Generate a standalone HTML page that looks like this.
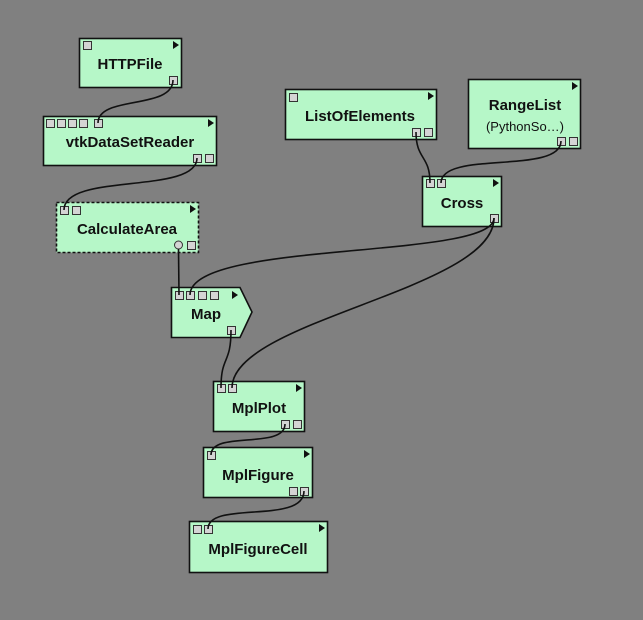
<!DOCTYPE html>
<html><head><meta charset="utf-8"><style>
html,body{margin:0;padding:0;background:#808080;}
svg{display:block}
text{font-family:"Liberation Sans",sans-serif;font-weight:bold;font-size:15px;fill:#111;text-anchor:middle}
</style></head><body>
<svg width="643" height="620" viewBox="0 0 643 620">
<rect width="643" height="620" fill="#808080"/>
<g stroke="#111" stroke-width="1.6" fill="#b6f7c8">
<rect x="79.5" y="38.5" width="102" height="49"/>
<rect x="43.5" y="116.5" width="173" height="49"/>
<rect x="56.5" y="202.5" width="142" height="50" stroke-dasharray="3,2"/>
<path d="M171.5 287.5 H240 L252 312 L240 337.5 H171.5 Z"/>
<rect x="285.5" y="89.5" width="151" height="50"/>
<rect x="468.5" y="79.5" width="112" height="69"/>
<rect x="422.5" y="176.5" width="79" height="50"/>
<rect x="213.5" y="381.5" width="91" height="50"/>
<rect x="203.5" y="447.5" width="109" height="50"/>
<rect x="189.5" y="521.5" width="138" height="51"/>
</g>
<g fill="#111">
<path d="M173 41 l6 4 l-6 4z"/><path d="M208 119 l6 4 l-6 4z"/><path d="M190 205 l6 4 l-6 4z"/>
<path d="M232 291 l6 4 l-6 4z"/><path d="M428 92 l6 4 l-6 4z"/><path d="M572 82 l6 4 l-6 4z"/>
<path d="M493 179 l6 4 l-6 4z"/><path d="M296 384 l6 4 l-6 4z"/><path d="M304 450 l6 4 l-6 4z"/>
<path d="M319 524 l6 4 l-6 4z"/>
</g>
<g fill="#d4d4d4" stroke="#333" stroke-width="1">
<rect x="83.5" y="41.5" width="8" height="8"/><rect x="169.5" y="76.5" width="8" height="8"/>
<rect x="46.5" y="119.5" width="8" height="8"/><rect x="57.5" y="119.5" width="8" height="8"/><rect x="68.5" y="119.5" width="8" height="8"/><rect x="79.5" y="119.5" width="8" height="8"/><rect x="94.5" y="119.5" width="8" height="8"/>
<rect x="193.5" y="154.5" width="8" height="8"/><rect x="205.5" y="154.5" width="8" height="8"/>
<rect x="60.5" y="206.5" width="8" height="8"/><rect x="72.5" y="206.5" width="8" height="8"/>
<circle cx="178.5" cy="245" r="4"/><rect x="187.5" y="241.5" width="8" height="8"/>
<rect x="175.5" y="291.5" width="8" height="8"/><rect x="186.5" y="291.5" width="8" height="8"/><rect x="198.5" y="291.5" width="8" height="8"/><rect x="210.5" y="291.5" width="8" height="8"/>
<rect x="227.5" y="326.5" width="8" height="8"/>
<rect x="289.5" y="93.5" width="8" height="8"/><rect x="412.5" y="128.5" width="8" height="8"/><rect x="424.5" y="128.5" width="8" height="8"/>
<rect x="557.5" y="137.5" width="8" height="8"/><rect x="569.5" y="137.5" width="8" height="8"/>
<rect x="426.5" y="179.5" width="8" height="8"/><rect x="437.5" y="179.5" width="8" height="8"/><rect x="490.5" y="214.5" width="8" height="8"/>
<rect x="217.5" y="384.5" width="8" height="8"/><rect x="228.5" y="384.5" width="8" height="8"/>
<rect x="281.5" y="420.5" width="8" height="8"/><rect x="293.5" y="420.5" width="8" height="8"/>
<rect x="207.5" y="451.5" width="8" height="8"/><rect x="289.5" y="487.5" width="8" height="8"/><rect x="300.5" y="487.5" width="8" height="8"/>
<rect x="193.5" y="525.5" width="8" height="8"/><rect x="204.5" y="525.5" width="8" height="8"/>
</g>
<g fill="none" stroke="#111" stroke-width="1.6">
<path d="M173 80 C173 110,98 95,98 123"/>
<path d="M197 158 C197 195,64 172,64 210"/>
<path d="M178.5 249 L179 295"/>
<path d="M494 218 C494 260,190 240,190 295"/>
<path d="M494 218 C494 290,232 320,232 388"/>
<path d="M231 330 C231 365,221 355,221 388"/>
<path d="M416 132 C416 160,430 155,430 183"/>
<path d="M561 141 C561 175,441 150,441 183"/>
<path d="M285 424 C285 450,211 430,211 455"/>
<path d="M304 491 C304 525,208 500,208 529"/>
</g>
<text x="130" y="69">HTTPFile</text>
<text x="130" y="147">vtkDataSetReader</text>
<text x="127" y="234">CalculateArea</text>
<text x="206" y="319">Map</text>
<text x="360" y="121">ListOfElements</text>
<text x="525" y="110">RangeList</text>
<text x="525" y="131" style="font-weight:normal;font-size:13px">(PythonSo…)</text>
<text x="462" y="208">Cross</text>
<text x="259" y="413">MplPlot</text>
<text x="258" y="480">MplFigure</text>
<text x="258" y="554">MplFigureCell</text>
</svg>
</body></html>
